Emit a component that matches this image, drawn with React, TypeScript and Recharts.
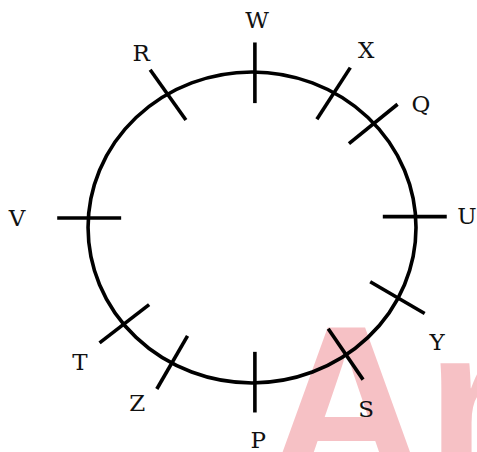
import React from 'react';
import { ScatterChart, Scatter, XAxis, YAxis, ReferenceArea, ReferenceLine } from 'recharts';

// Seats around the table, clockwise from the top
const seats = ['W', 'X', 'Q', 'U', 'Y', 'S', 'P', 'Z', 'T', 'V', 'R'];
// Angle (degrees, counter-clockwise from the right) where each seat mark crosses the table
const seatAngles = [89, 60, 42, 4, -27, -55, -89, -119.3, -141.5, 176.5, 121];
// Direction of each seat mark (degrees)
const markDirections = [90, 58.5, 40.5, 0, -31.6, -57, -90, -118.7, -140.8, 180, 124];
// Angle and relative distance of each seat's name
const labelAngles = [88.7, 58.6, 37.6, 3.2, -33.1, -59.2, -88.4, -121.8, -140.5, 177.6, 121.1];
const labelRadii = [1.334, 1.336, 1.3, 1.313, 1.347, 1.358, 1.367, 1.329, 1.36, 1.434, 1.31];

const X_DOMAIN: [number, number] = [-1.537, 1.372];
const Y_DOMAIN: [number, number] = [-1.444, 1.463];
const MARK_IN = 0.2;
const MARK_OUT = 0.19;

const rad = (d: number) => (d * Math.PI) / 180;

const labelPoints = seats.map((name, i) => ({
  name,
  x: labelRadii[i] * Math.cos(rad(labelAngles[i])),
  y: labelRadii[i] * Math.sin(rad(labelAngles[i])),
}));

const markSegments = seats.map((name, i) => {
  const px = Math.cos(rad(seatAngles[i]));
  const py = Math.sin(rad(seatAngles[i]));
  const dx = Math.cos(rad(markDirections[i]));
  const dy = Math.sin(rad(markDirections[i]));
  return {
    name,
    segment: [
      { x: px - MARK_IN * dx, y: py - MARK_IN * dy },
      { x: px + MARK_OUT * dx, y: py + MARK_OUT * dy },
    ],
  };
});

const EllipseShape = (props: any) => {
  const { x, y, width, height } = props;
  return (
    <ellipse
      cx={x + width / 2}
      cy={y + height / 2}
      rx={Math.abs(width) / 2}
      ry={Math.abs(height) / 2}
      fill="none"
      stroke="#000"
      strokeWidth={3.6}
    />
  );
};

const LabelShape = (props: any) => {
  const { cx, cy, payload } = props;
  return (
    <text
      x={cx}
      y={cy}
      textAnchor="middle"
      dominantBaseline="central"
      fontFamily="'DejaVu Serif', serif"
      fontSize={23}
      fill="#111"
    >
      {payload.name}
    </text>
  );
};

export default function App() {
  return (
    <div style={{ position: 'absolute', left: 0, top: 0, width: 477, height: 452, background: '#fff' }}>
      <ScatterChart width={477} height={452} margin={{ top: 0, right: 0, bottom: 0, left: 0 }}>
        <XAxis type="number" dataKey="x" domain={X_DOMAIN} hide allowDataOverflow />
        <YAxis type="number" dataKey="y" domain={Y_DOMAIN} hide allowDataOverflow />
        <ReferenceArea x1={-1} x2={1} y1={-1} y2={1} shape={EllipseShape} ifOverflow="visible" />
        {markSegments.map((t) => (
          <ReferenceLine
            key={t.name}
            segment={t.segment}
            stroke="#000"
            strokeWidth={3.6}
            ifOverflow="visible"
          />
        ))}
        <Scatter data={labelPoints} shape={LabelShape} isAnimationActive={false} />
        <text
          x={267}
          y={480}
          fontFamily="'Liberation Sans', sans-serif"
          fontWeight="bold"
          fontSize={220}
          fill="rgb(226,50,64)"
          fillOpacity={0.3}
        >
          Ar
        </text>
      </ScatterChart>
    </div>
  );
}
